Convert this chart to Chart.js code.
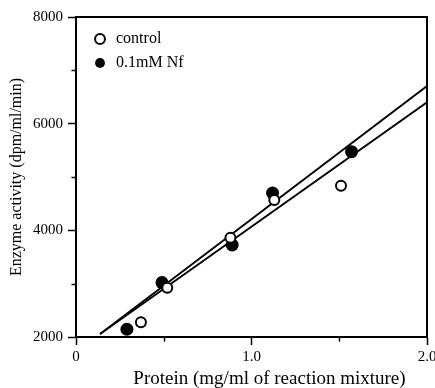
<!DOCTYPE html>
<html><head><meta charset="utf-8">
<script src="https://cdn.jsdelivr.net/npm/chart.js@4"></script>
<style>html,body{margin:0;padding:0;background:#fff}canvas{display:block}</style>
</head><body>
<canvas id="c" width="435" height="388"></canvas>
<script>
// ---- data ----
const seriesNames = ['control', '0.1mM Nf'];
const controlX = [0.37, 0.52, 0.88, 1.13, 1.51];
const controlY = [2275, 2925, 3860, 4570, 4835];
const nfX = [0.29, 0.49, 0.89, 1.12, 1.57];
const nfY = [2145, 3020, 3725, 4700, 5475];
const fitX = [0.137, 2.0];
const fitNfY = [2056, 6705];
const fitControlY = [2056, 6400];
const xTickValues = [0, 1, 2];
const xTickLabels = ['0', '1.0', '2.0'];
const yTickValues = [2000, 4000, 6000, 8000];
const yTickLabels = ['2000', '4000', '6000', '8000'];
const xMinorTicks = [0.5, 1.5];
const yMinorTicks = [3000, 5000, 7000];
const xTitle = 'Protein (mg/ml of reaction mixture)';
const yTitle = 'Enzyme activity (dpm/ml/min)';

const FONT = "'Liberation Serif', 'Times New Roman', serif";
Chart.defaults.font.family = FONT;
Chart.defaults.color = '#000';

const toPts = (xs, ys) => xs.map((x, i) => ({x, y: ys[i]}));

const framePlugin = {
  id: 'frame',
  afterLayout(chart) {
    // nudge legend inside the plot area
    chart.legend.left += 8;
    chart.legend.top += 23;
  },
  afterDraw(chart) {
    const {ctx, chartArea: a, scales: {x, y}} = chart;
    ctx.save();
    ctx.strokeStyle = '#000';
    ctx.lineWidth = 2;
    ctx.beginPath();
    ctx.moveTo(a.left, a.top); ctx.lineTo(a.right, a.top); ctx.lineTo(a.right, a.bottom);
    ctx.stroke();
    ctx.lineWidth = 1.5;
    ctx.beginPath();
    yMinorTicks.forEach(v => { const p = Math.round(y.getPixelForValue(v)) + 0.5; ctx.moveTo(a.left - 4.5, p); ctx.lineTo(a.left, p); });
    xMinorTicks.forEach(v => { const p = Math.round(x.getPixelForValue(v)) + 0.5; ctx.moveTo(p, a.bottom); ctx.lineTo(p, a.bottom + 4.5); });
    ctx.stroke();
    // x axis title
    ctx.fillStyle = '#000';
    ctx.font = '19px ' + FONT;
    ctx.textAlign = 'center';
    ctx.textBaseline = 'middle';
    ctx.fillText(xTitle, (a.left + a.right) / 2 + 18, 379);
    ctx.restore();
  }
};

new Chart(document.getElementById('c'), {
  type: 'scatter',
  data: {
    datasets: [
      { label: seriesNames[0], data: toPts(controlX, controlY), pointRadius: 5, pointHoverRadius: 5,
        pointBackgroundColor: '#fff', pointBorderColor: '#000', pointBorderWidth: 2,
        backgroundColor: '#fff', borderColor: '#000', borderWidth: 2 },
      { label: seriesNames[1], data: toPts(nfX, nfY), pointRadius: 6.5, pointHoverRadius: 6.5,
        pointBackgroundColor: '#000', pointBorderColor: '#000', pointBorderWidth: 0,
        backgroundColor: '#000', borderColor: '#000', borderWidth: 0 },
      { label: 'fit Nf', data: toPts(fitX, fitNfY), showLine: true, pointRadius: 0,
        borderColor: '#000', borderWidth: 1.8, fill: false },
      { label: 'fit control', data: toPts(fitX, fitControlY), showLine: true, pointRadius: 0,
        borderColor: '#000', borderWidth: 1.8, fill: false }
    ]
  },
  options: {
    responsive: false,
    animation: false,
    events: [],
    layout: { padding: { top: 17, right: 8, left: 0, bottom: 0 } },
    plugins: {
      tooltip: { enabled: false },
      legend: {
        position: 'chartArea',
        align: 'start',
        labels: {
          usePointStyle: true,
          boxWidth: 16,
          boxHeight: 7,
          padding: 8,
          font: { size: 16, family: FONT },
          color: '#000',
          filter: item => item.datasetIndex < 2
        }
      }
    },
    scales: {
      x: {
        type: 'linear', position: 'bottom', min: 0, max: 2,
        afterBuildTicks: s => { s.ticks = xTickValues.map(v => ({value: v})); },
        afterFit: s => { s.height = 51; s.paddingLeft = 0; s.paddingRight = 0; },
        ticks: { font: { size: 15 }, color: '#000', padding: 3, maxRotation: 0,
          callback: v => xTickLabels[xTickValues.indexOf(v)] },
        grid: { drawOnChartArea: false, drawTicks: true, tickLength: 8, tickColor: '#000', tickWidth: 1.5 },
        border: { display: true, color: '#000', width: 2 },
        title: { display: false }
      },
      y: {
        type: 'linear', position: 'left', min: 2000, max: 8000,
        afterBuildTicks: s => { s.ticks = yTickValues.map(v => ({value: v})); },
        afterFit: s => { s.width = 76; s.paddingTop = 0; s.paddingBottom = 0; },
        ticks: { font: { size: 15 }, color: '#000', padding: 5,
          callback: v => yTickLabels[yTickValues.indexOf(v)] },
        grid: { drawOnChartArea: false, drawTicks: true, tickLength: 8, tickColor: '#000', tickWidth: 1.5 },
        border: { display: true, color: '#000', width: 2 },
        title: { display: true, text: yTitle, font: { size: 16 }, color: '#000', padding: { top: 7, bottom: 0 } }
      }
    }
  },
  plugins: [framePlugin]
});
</script>
</body></html>
